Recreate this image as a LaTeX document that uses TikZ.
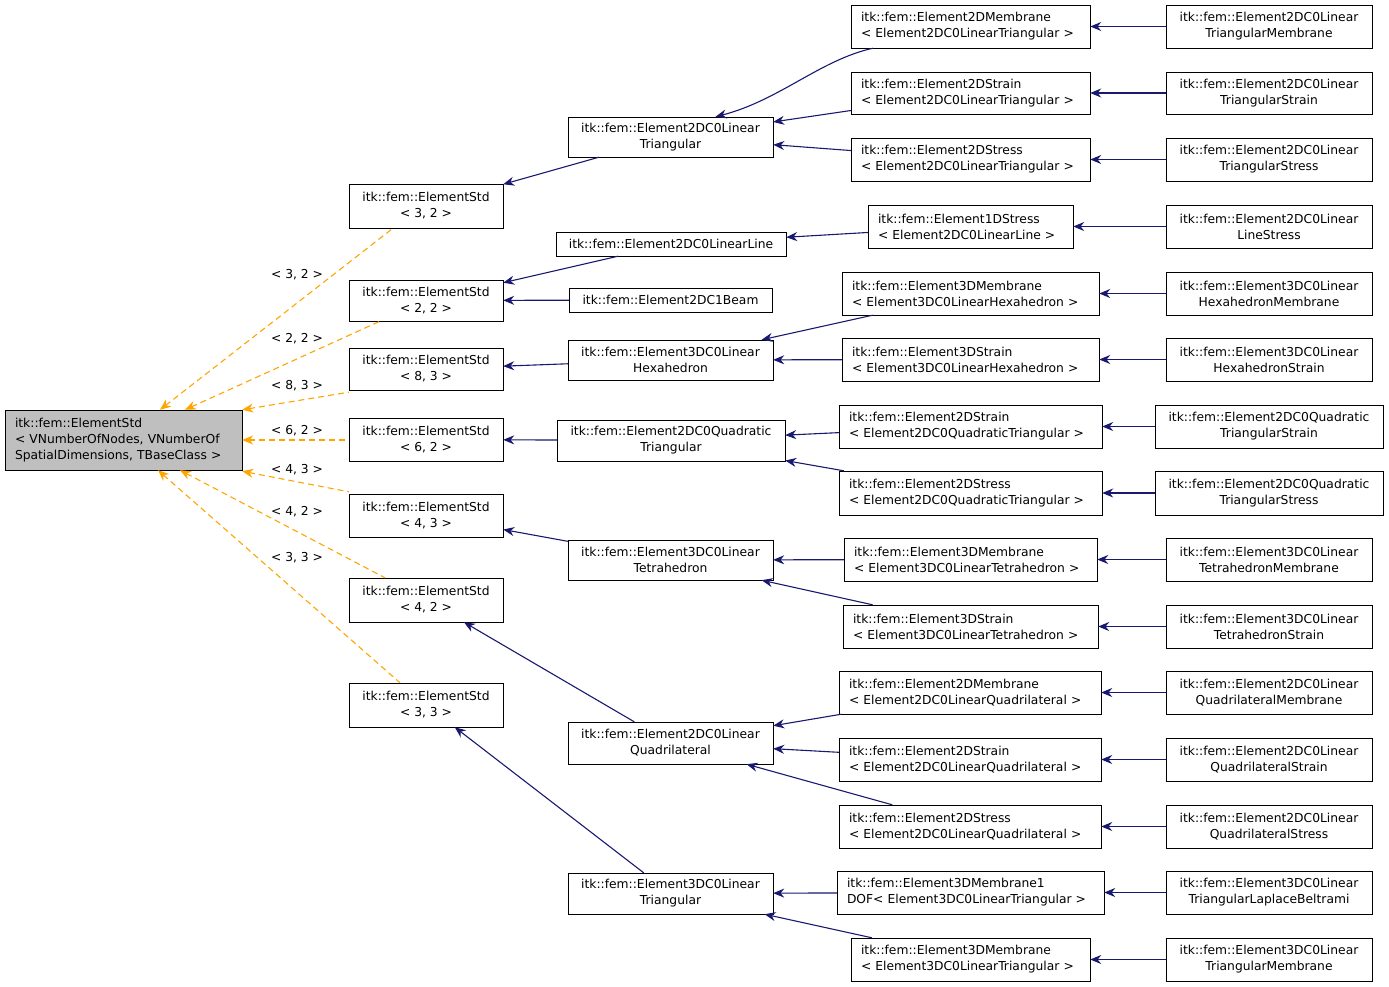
\documentclass[tikz,border=0pt]{standalone}
\usepackage{fontspec}
\setmainfont{DejaVu Sans}
\usetikzlibrary{arrows.meta}
\definecolor{navy}{RGB}{25,25,112}
\definecolor{dorange}{RGB}{255,165,0}
\begin{document}
\begin{tikzpicture}[x=1pt,y=-1pt,
  box/.style={draw=black,fill=white,inner sep=0pt,align=center,font=\fontsize{12.3}{16}\selectfont},
  lbox/.style={box,align=left},
  inh/.style={draw=navy,line width=1.1pt,{Stealth[length=11pt,width=9pt]}-},
  tpl/.style={draw=dorange,line width=1.1pt,dash pattern=on 6pt off 4pt,{Stealth[length=11pt,width=9pt]}-},
  lab/.style={font=\fontsize{12.3}{16}\selectfont,inner sep=0pt}]
\useasboundingbox (0,0) rectangle (1389,987);
\newcommand{\bx}[6]{\node[box,minimum width={#4-#2},minimum height={#5-#3}] (#1) at ({(#2+#4)/2},{(#3+#5)/2}) {#6};}
\newcommand{\lbx}[6]{\node[lbox,minimum width={#4-#2},minimum height={#5-#3},text width={#4-#2-20}] (#1) at ({(#2+#4)/2},{(#3+#5)/2}) {#6};}
% root
\node[lbox,fill={rgb,255:red,191;green,191;blue,191},minimum width=237,minimum height=60,text width=217] (root) at (123.5,440) {itk::fem::ElementStd\\\textless{} VNumberOfNodes, VNumberOf\\SpatialDimensions, TBaseClass \textgreater};
\bx{es32}{349}{184}{503}{228}{itk::fem::ElementStd\\\textless{} 3, 2 \textgreater}
\bx{es22}{349}{280}{503}{321}{itk::fem::ElementStd\\\textless{} 2, 2 \textgreater}
\bx{es83}{349}{348}{503}{390}{itk::fem::ElementStd\\\textless{} 8, 3 \textgreater}
\bx{es62}{349}{418}{503}{461}{itk::fem::ElementStd\\\textless{} 6, 2 \textgreater}
\bx{es43}{349}{494}{503}{537}{itk::fem::ElementStd\\\textless{} 4, 3 \textgreater}
\bx{es42}{349}{578}{503}{622}{itk::fem::ElementStd\\\textless{} 4, 2 \textgreater}
\bx{es33}{349}{683}{503}{727}{itk::fem::ElementStd\\\textless{} 3, 3 \textgreater}
% column 2
\bx{tri}{568}{117}{773}{157}{itk::fem::Element2DC0Linear\\Triangular}
\bx{line}{556}{232}{786}{256}{itk::fem::Element2DC0LinearLine}
\bx{beam}{569}{288}{772}{312}{itk::fem::Element2DC1Beam}
\bx{hex}{568}{340}{773}{380}{itk::fem::Element3DC0Linear\\Hexahedron}
\bx{qtri}{557}{420}{785}{461}{itk::fem::Element2DC0Quadratic\\Triangular}
\bx{tet}{568}{540}{773}{580}{itk::fem::Element3DC0Linear\\Tetrahedron}
\bx{quad}{568}{722}{773}{764}{itk::fem::Element2DC0Linear\\Quadrilateral}
\bx{tri3}{568}{873}{773}{914}{itk::fem::Element3DC0Linear\\Triangular}
% column 3
\lbx{a1}{851}{5}{1090}{48}{itk::fem::Element2DMembrane\\\textless{} Element2DC0LinearTriangular \textgreater}
\lbx{a2}{851}{72}{1090}{114}{itk::fem::Element2DStrain\\\textless{} Element2DC0LinearTriangular \textgreater}
\lbx{a3}{851}{138}{1090}{181}{itk::fem::Element2DStress\\\textless{} Element2DC0LinearTriangular \textgreater}
\lbx{a4}{868}{205}{1073}{248}{itk::fem::Element1DStress\\\textless{} Element2DC0LinearLine \textgreater}
\lbx{a5}{842}{272}{1099}{315}{itk::fem::Element3DMembrane\\\textless{} Element3DC0LinearHexahedron \textgreater}
\lbx{a6}{842}{338}{1099}{381}{itk::fem::Element3DStrain\\\textless{} Element3DC0LinearHexahedron \textgreater}
\lbx{a7}{839}{405}{1102}{448}{itk::fem::Element2DStrain\\\textless{} Element2DC0QuadraticTriangular \textgreater}
\lbx{a8}{839}{471}{1102}{515}{itk::fem::Element2DStress\\\textless{} Element2DC0QuadraticTriangular \textgreater}
\lbx{a9}{844}{538}{1097}{581}{itk::fem::Element3DMembrane\\\textless{} Element3DC0LinearTetrahedron \textgreater}
\lbx{a10}{843}{605}{1098}{648}{itk::fem::Element3DStrain\\\textless{} Element3DC0LinearTetrahedron \textgreater}
\lbx{a11}{839}{671}{1101}{714}{itk::fem::Element2DMembrane\\\textless{} Element2DC0LinearQuadrilateral \textgreater}
\lbx{a12}{839}{738}{1101}{781}{itk::fem::Element2DStrain\\\textless{} Element2DC0LinearQuadrilateral \textgreater}
\lbx{a13}{839}{805}{1101}{848}{itk::fem::Element2DStress\\\textless{} Element2DC0LinearQuadrilateral \textgreater}
\lbx{a14}{837}{871}{1104}{914}{itk::fem::Element3DMembrane1\\DOF\textless{} Element3DC0LinearTriangular \textgreater}
\lbx{a15}{851}{938}{1090}{981}{itk::fem::Element3DMembrane\\\textless{} Element3DC0LinearTriangular \textgreater}
% column 4
\bx{b1}{1166}{5}{1372}{48}{itk::fem::Element2DC0Linear\\TriangularMembrane}
\bx{b2}{1166}{72}{1372}{114}{itk::fem::Element2DC0Linear\\TriangularStrain}
\bx{b3}{1166}{138}{1372}{181}{itk::fem::Element2DC0Linear\\TriangularStress}
\bx{b4}{1166}{205}{1372}{248}{itk::fem::Element2DC0Linear\\LineStress}
\bx{b5}{1166}{272}{1372}{315}{itk::fem::Element3DC0Linear\\HexahedronMembrane}
\bx{b6}{1166}{338}{1372}{381}{itk::fem::Element3DC0Linear\\HexahedronStrain}
\bx{b7}{1155}{405}{1383}{448}{itk::fem::Element2DC0Quadratic\\TriangularStrain}
\bx{b8}{1155}{471}{1383}{515}{itk::fem::Element2DC0Quadratic\\TriangularStress}
\bx{b9}{1166}{538}{1372}{581}{itk::fem::Element3DC0Linear\\TetrahedronMembrane}
\bx{b10}{1166}{605}{1372}{648}{itk::fem::Element3DC0Linear\\TetrahedronStrain}
\bx{b11}{1166}{671}{1372}{714}{itk::fem::Element2DC0Linear\\QuadrilateralMembrane}
\bx{b12}{1166}{738}{1372}{781}{itk::fem::Element2DC0Linear\\QuadrilateralStrain}
\bx{b13}{1166}{805}{1372}{848}{itk::fem::Element2DC0Linear\\QuadrilateralStress}
\bx{b14}{1166}{871}{1372}{914}{itk::fem::Element3DC0Linear\\TriangularLaplaceBeltrami}
\bx{b15}{1166}{938}{1372}{981}{itk::fem::Element3DC0Linear\\TriangularMembrane}
% template edges
\draw[tpl] ([xshift=36.5pt]root.north) -- ([xshift=-33pt]es32.south);
\draw[tpl] ([xshift=61.5pt]root.north) -- ([xshift=-46pt]es22.south);
\draw[tpl] (root.north east) -- ([yshift=-2pt]es83.south west);
\draw[tpl] (root.east) -- (root.east -| es62.west);
\draw[tpl] ([yshift=-1pt]root.south east) -- ([yshift=2pt]es43.north west);
\draw[tpl] ([xshift=56.5pt]root.south) -- ([xshift=-41pt]es42.north);
\draw[tpl] ([xshift=34.5pt]root.south) -- ([xshift=-26pt]es33.north);
\node[lab] (l1) at (297,275) {\textless{} 3, 2 \textgreater};
\node[lab] (l2) at (297,339) {\textless{} 2, 2 \textgreater};
\node[lab] (l3) at (297,386) {\textless{} 8, 3 \textgreater};
\node[lab] (l4) at (297,431) {\textless{} 6, 2 \textgreater};
\node[lab] (l5) at (297,470) {\textless{} 4, 3 \textgreater};
\node[lab] (l6) at (297,512) {\textless{} 4, 2 \textgreater};
\node[lab] (l7) at (297,558) {\textless{} 3, 3 \textgreater};
% inheritance edges
\draw[inh] (es32) -- (tri);
\draw[inh] (es22) -- (line);
\draw[inh] (es22) -- (beam);
\draw[inh] (es83) -- (hex);
\draw[inh] (es62) -- (qtri);
\draw[inh] (es43) -- (tet);
\draw[inh] (es42) -- (quad);
\draw[inh] (es33) -- (tri3);
\draw[inh] ([xshift=45pt]tri.north) .. controls (780,100) and (820,60) .. (a1);
\draw[inh] (tri) -- (a2);
\draw[inh] (tri) -- (a3);
\draw[inh] (line) -- (a4);
\draw[inh] (hex) -- (a5);
\draw[inh] (hex) -- (a6);
\draw[inh] (qtri) -- (a7);
\draw[inh] (qtri) -- (a8);
\draw[inh] (tet) -- (a9);
\draw[inh] (tet) -- (a10);
\draw[inh] (quad) -- (a11);
\draw[inh] (quad) -- (a12);
\draw[inh] (quad) -- (a13);
\draw[inh] (tri3) -- (a14);
\draw[inh] (tri3) -- (a15);
\foreach \i in {1,...,15} {\draw[inh] (a\i) -- (b\i);}
\end{tikzpicture}
\end{document}
